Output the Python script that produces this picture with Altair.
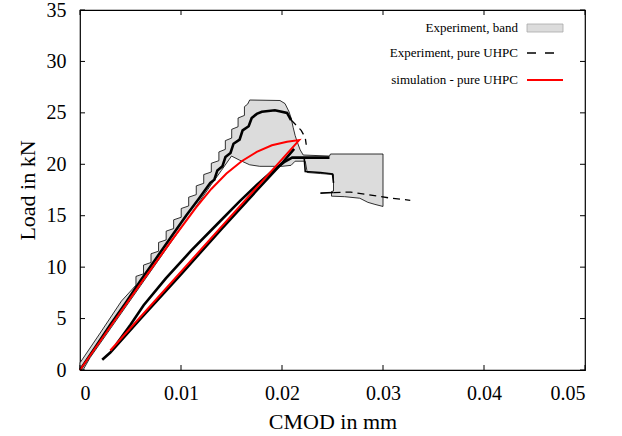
import altair as alt
import pandas as pd

# ---------------- data ----------------
x_ticks = [0, 0.01, 0.02, 0.03, 0.04, 0.05]
y_ticks = [0, 5, 10, 15, 20, 25, 30, 35]

legend_labels = ["Experiment, band", "Experiment, pure UHPC", "simulation - pure UHPC"]

# grey experimental band (closed outline, traced clockwise)
band_cmod = [0.0000, 0.0000, 0.0020, 0.0041,
             0.00554, 0.00554, 0.00629, 0.00629, 0.00703, 0.00703, 0.00778, 0.00778,
             0.00853, 0.00853, 0.00927, 0.00927, 0.01002, 0.01002, 0.01076, 0.01076,
             0.01151, 0.01151, 0.01225, 0.01225, 0.01300, 0.01300, 0.01375, 0.01375,
             0.01439, 0.01439, 0.01502, 0.01502, 0.01565, 0.01565, 0.01628, 0.01628,
             0.0166, 0.0168, 0.0198,
             0.0203, 0.0207, 0.0209, 0.0211, 0.0213, 0.0215, 0.0218, 0.0221, 0.0247, 0.0248,
             0.0300, 0.0300, 0.0292, 0.0285, 0.0277, 0.0262, 0.0249, 0.0249, 0.0251, 0.0251,
             0.0238, 0.0225, 0.0223, 0.0213, 0.0209, 0.0200, 0.0178, 0.0168, 0.0158, 0.0150,
             0.0140, 0.0129, 0.0115, 0.0090, 0.0060, 0.0030, 0.0010, 0.0003]
band_load = [0.0, 0.7, 3.6, 6.7,
             8.25, 9.1, 9.35, 10.2, 10.45, 11.3, 11.55, 12.4,
             12.65, 13.5, 13.75, 14.6, 14.85, 15.7, 15.95, 16.8,
             17.05, 17.9, 18.15, 19.0, 19.25, 20.1, 20.35, 21.2,
             21.45, 22.3, 22.55, 23.4, 23.65, 24.5, 24.75, 25.6,
             25.85, 26.25, 26.2,
             25.9, 25.1, 24.5, 23.6, 22.8, 22.2, 21.4, 20.9, 20.8, 21.0,
             21.0, 15.9, 16.1, 16.3, 16.7, 16.85, 16.9, 17.35, 17.4, 19.0,
             19.1, 19.2, 20.3, 20.3, 19.9, 19.8, 19.8, 19.95, 20.4, 20.8,
             19.4, 17.9, 15.9, 12.4, 8.2, 4.0, 1.2, 0.0]

# experiment, pure UHPC (thick traces)
exp1_cmod = [0.0, 0.0015, 0.0030, 0.0045, 0.0060, 0.0075, 0.0090, 0.0105, 0.0118, 0.0129,
             0.0133, 0.0136, 0.0141, 0.0144, 0.0149, 0.0152, 0.0158, 0.0161, 0.0167, 0.0170,
             0.0175, 0.0180, 0.0193, 0.0205, 0.0209]
exp1_load = [0.0, 2.2, 4.4, 6.5, 8.7, 10.8, 12.9, 15.0, 16.7, 18.2,
             18.5, 19.4, 19.8, 20.7, 21.1, 22.0, 22.4, 23.3, 23.7, 24.5,
             24.9, 25.1, 25.25, 25.0, 24.3]
exp2_cmod = [0.0036, 0.0050, 0.0063, 0.0085, 0.0110, 0.0135, 0.0158, 0.0175, 0.0190, 0.0202,
             0.0210, 0.0247]
exp2_load = [2.5, 4.4, 6.3, 8.9, 11.6, 14.1, 16.4, 18.0, 19.3, 20.2,
             20.65, 20.65]
exp3_cmod = [0.0022, 0.0030, 0.0060, 0.0100, 0.0140, 0.0180, 0.0200, 0.0212]
exp3_load = [1.0, 1.7, 5.0, 9.3, 13.7, 18.0, 20.1, 21.5]
exp4_cmod = [0.0222, 0.0223, 0.0238, 0.0250, 0.0251]
exp4_load = [20.6, 19.3, 19.2, 19.05, 18.2]
exp5_cmod = [0.0238, 0.0251]
exp5_load = [17.2, 17.25]

# experiment, dashed parts
dash1_cmod = [0.0209, 0.0214, 0.0219, 0.0223, 0.0224]
dash1_load = [24.3, 23.8, 23.3, 22.6, 21.9]
dash2_cmod = [0.0251, 0.0268, 0.0282, 0.0295, 0.0308, 0.0327]
dash2_load = [17.25, 17.3, 17.1, 16.9, 16.7, 16.5]

# simulation: loading to peak, then straight unloading branch
sim_cmod = [0.0, 0.0030, 0.0060, 0.0090, 0.0115, 0.0130, 0.0145, 0.0160, 0.0175, 0.0190,
            0.0205, 0.0217, 0.0030]
sim_load = [0.0, 4.2, 8.4, 12.5, 15.8, 17.6, 19.1, 20.3, 21.2, 21.85,
            22.2, 22.35, 1.9]

# ---------------- build tables ----------------
def series_df(name, xs, ys):
    return pd.DataFrame({"cmod": xs, "load": ys, "s": name, "i": list(range(len(xs)))})

band_df = series_df("band", band_cmod, band_load)
exp_df = pd.concat([series_df("e1", exp1_cmod, exp1_load),
                    series_df("e2", exp2_cmod, exp2_load),
                    series_df("e3", exp3_cmod, exp3_load)])
thin_df = pd.concat([series_df("e4", exp4_cmod, exp4_load),
                     series_df("e5", exp5_cmod, exp5_load)])
dash_df = pd.concat([series_df("d1", dash1_cmod, dash1_load),
                     series_df("d2", dash2_cmod, dash2_load)])
sim_df = series_df("sim", sim_cmod, sim_load)
xt_df = pd.DataFrame({"cmod": x_ticks})
yt_df = pd.DataFrame({"load": y_ticks})

FONT = "Liberation Serif"
W, H = 505, 360

xs = alt.Scale(domain=[0, 0.05], nice=False, zero=False)
ys = alt.Scale(domain=[0, 35], nice=False)
X = alt.X("cmod:Q", scale=xs,
          axis=alt.Axis(title="CMOD in mm", values=x_ticks, format="~g",
                        labelFont=FONT, titleFont=FONT))
Y = alt.Y("load:Q", scale=ys,
          axis=alt.Axis(title="Load in kN", values=y_ticks, format="d",
                        labelFont=FONT, titleFont=FONT))

band = alt.Chart(band_df).mark_line(
    fill="#dcdcdc", stroke="black", strokeWidth=0.8, interpolate="linear-closed"
).encode(x=X, y=Y, order="i:Q")

exp_lines = alt.Chart(exp_df).mark_line(color="black", strokeWidth=2.6).encode(
    x=X, y=Y, detail="s:N", order="i:Q")

thin_lines = alt.Chart(thin_df).mark_line(color="black", strokeWidth=1.6).encode(
    x=X, y=Y, detail="s:N", order="i:Q")

dash_lines = alt.Chart(dash_df).mark_line(color="black", strokeWidth=1.3, strokeDash=[7, 5]).encode(
    x=X, y=Y, detail="s:N", order="i:Q")

sim_line = alt.Chart(sim_df).mark_line(color="#ff0000", strokeWidth=2).encode(
    x=X, y=Y, order="i:Q")

# inward ticks on all four sides
tk = 5
xt_bottom = alt.Chart(xt_df).mark_rule(color="black").encode(x=X, y=alt.value(H), y2=alt.value(H - tk))
xt_top = alt.Chart(xt_df).mark_rule(color="black").encode(x=X, y=alt.value(0), y2=alt.value(tk))
yt_left = alt.Chart(yt_df).mark_rule(color="black").encode(y=Y, x=alt.value(0), x2=alt.value(tk))
yt_right = alt.Chart(yt_df).mark_rule(color="black").encode(y=Y, x=alt.value(W), x2=alt.value(W - tk))

# legend (top right, inside the frame)
one = pd.DataFrame({"k": [0]})
lx_text, lx0, lx1 = 438, 447, 483
rows = [18, 43, 70]
leg = []
for lab, ry in zip(legend_labels, rows):
    leg.append(alt.Chart(one).mark_text(text=lab, align="right", baseline="middle",
                                        font=FONT, fontSize=13, color="black")
               .encode(x=alt.value(lx_text), y=alt.value(ry)))
leg.append(alt.Chart(one).mark_rect(fill="#dcdcdc", stroke="#a8a8a8", strokeWidth=0.8)
           .encode(x=alt.value(lx0), x2=alt.value(lx1), y=alt.value(rows[0] - 4), y2=alt.value(rows[0] + 4)))
leg.append(alt.Chart(one).mark_rule(color="black", strokeWidth=1.3, strokeDash=[9, 9])
           .encode(x=alt.value(lx0), x2=alt.value(lx1), y=alt.value(rows[1])))
leg.append(alt.Chart(one).mark_rule(color="#ff0000", strokeWidth=2)
           .encode(x=alt.value(lx0), x2=alt.value(lx1), y=alt.value(rows[2])))

chart = alt.layer(
    band, exp_lines, thin_lines, dash_lines, sim_line, xt_bottom, xt_top, yt_left, yt_right, *leg
).properties(
    width=W, height=H,
    autosize=alt.AutoSizeParams(type="none"),
    padding={"left": 80, "top": 10, "right": 37, "bottom": 66},
).configure_view(
    stroke="black", strokeWidth=1.2
).configure_axis(
    domain=False, ticks=False, tickSize=0, grid=False,
    labelFont=FONT, labelFontSize=20, labelColor="black",
    titleFont=FONT, titleFontSize=22, titleFontWeight="normal", titleColor="black",
).configure_axisX(
    labelPadding=13, titlePadding=8
).configure_axisY(
    labelPadding=14, titlePadding=7
)

chart.save("out.html", embed_options={"renderer": "svg", "actions": False})
